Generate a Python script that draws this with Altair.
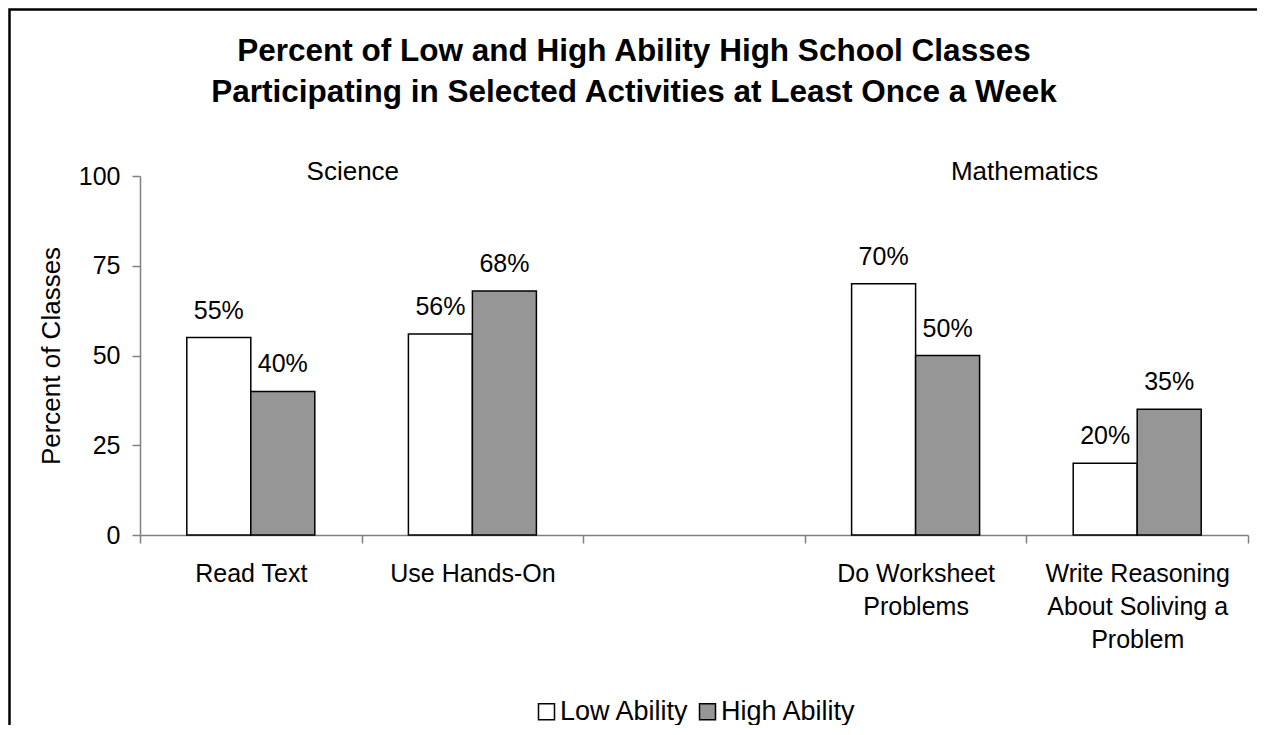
import altair as alt
import pandas as pd

FONT = "Liberation Sans, Arial"

# x slots (third slot is an empty gap in the original)
categories = ["Read Text", "Use Hands-On", " ", "Do Worksheet|Problems",
              "Write Reasoning|About Soliving a|Problem"]
activities = ["Read Text", "Read Text", "Use Hands-On", "Use Hands-On",
              "Do Worksheet|Problems", "Do Worksheet|Problems",
              "Write Reasoning|About Soliving a|Problem",
              "Write Reasoning|About Soliving a|Problem"]
abilities = ["Low Ability", "High Ability"] * 4
values = [55, 40, 56, 68, 70, 50, 20, 35]

ability_order = ["Low Ability", "High Ability"]
ability_colors = ["#ffffff", "#969696"]

sections = ["Science", "Mathematics"]
section_anchor = ["Read Text", "Do Worksheet|Problems"]
section_shift = [102, 109]

df = pd.DataFrame({
    "activity": activities,
    "ability": abilities,
    "value": values,
    "label": [f"{v}%" for v in values],
})

x_enc = alt.X(
    "activity:N",
    sort=categories,
    scale=alt.Scale(domain=categories, paddingInner=0, paddingOuter=0),
    axis=alt.Axis(
        title=None, labelAngle=0,
        labelExpr="isString(datum.value) ? split(datum.value, '|') : ''",
        labelFontSize=25, labelLineHeight=33, labelPadding=18, labelColor="black",
        labelFont=FONT, labelLimit=400, tickSize=8, tickBand="extent",
        tickColor="#808080", domainColor="#808080", domainWidth=1.5,
        tickWidth=1.5, grid=False,
    ),
)
y_enc = alt.Y(
    "value:Q",
    scale=alt.Scale(domain=[0, 100], nice=False),
    axis=alt.Axis(
        title="Percent of Classes", titleFontSize=26, titleFontWeight="normal",
        titleColor="black", titleFont=FONT, titlePadding=14,
        values=[0, 25, 50, 75, 100], labelFontSize=25, labelColor="black",
        labelFont=FONT, labelPadding=12, tickSize=8, tickColor="#808080",
        domainColor="#808080", domainWidth=1.5, tickWidth=1.5, grid=False,
    ),
)
xoff = alt.XOffset("ability:N", sort=ability_order,
                   scale=alt.Scale(domain=ability_order, paddingInner=0,
                                   paddingOuter=0.73125))

bars = alt.Chart(df).mark_bar(stroke="black", strokeWidth=1.5).encode(
    x=x_enc, y=y_enc, xOffset=xoff,
    fill=alt.Fill("ability:N", sort=ability_order,
                  scale=alt.Scale(domain=ability_order, range=ability_colors),
                  legend=alt.Legend(
                      title=None, orient="none", legendX=393, legendY=522,
                      direction="horizontal", symbolType="square", symbolSize=256,
                      symbolStrokeColor="black", symbolStrokeWidth=1.5,
                      labelFontSize=27, labelFont=FONT, labelColor="black",
                      labelOffset=0, columnPadding=4, padding=0,
                  )),
)

labels = alt.Chart(df).mark_text(
    fontSize=25, font=FONT, color="black", align="center",
    baseline="alphabetic", dy=-19,
).encode(x=alt.X("activity:N", sort=categories), y="value:Q", xOffset=xoff, text="label:N")

layers = [bars, labels]
for name, anchor, shift in zip(sections, section_anchor, section_shift):
    sdf = pd.DataFrame({"activity": [anchor], "value": [100], "section": [name]})
    layers.append(
        alt.Chart(sdf).mark_text(
            fontSize=26, font=FONT, color="black", align="center",
            baseline="alphabetic", dx=shift, dy=4,
        ).encode(x=alt.X("activity:N", sort=categories), y="value:Q", text="section:N")
    )

frame = alt.Chart(pd.DataFrame({"f": [0]})).mark_rect(
    fill=None, stroke="black", strokeWidth=2.5
).encode(x=alt.value(-130.5), x2=alt.value(3000), y=alt.value(-166.5), y2=alt.value(3000))
layers.append(frame)

chart = alt.layer(*layers).properties(
    width=1108, height=359,
    background="white",
    padding={"left": 132, "top": 168, "right": 9, "bottom": 190},
    autosize=alt.AutoSizeParams(type="none"),
    title=alt.TitleParams(
        ["Percent of Low and High Ability High School Classes",
         "Participating in Selected Activities at Least Once a Week"],
        fontSize=31.5, fontWeight="bold", font=FONT, color="black",
        anchor="middle", frame="group", dx=-60, lineHeight=41, offset=30,
        baseline="bottom", dy=162,
    ),
).configure_view(stroke=None, strokeWidth=0)

chart.save("out.html", embed_options={"renderer": "svg", "actions": False})
